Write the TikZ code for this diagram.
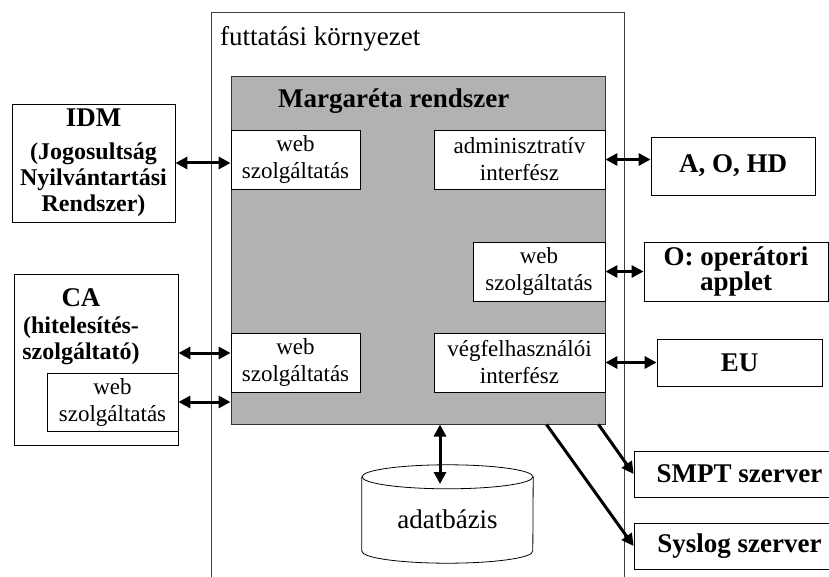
\documentclass[tikz,border=0pt]{standalone}
\usepackage{fontspec}
\setmainfont{Liberation Serif}
\usetikzlibrary{arrows.meta}

\newcommand\boxfont{\fontsize{23}{27}\selectfont}
\newcommand\envfont{\fontsize{27}{30}\selectfont}
\newcommand\headfont{\bfseries\fontsize{27}{24}\selectfont}
\newcommand\notefont{\bfseries\fontsize{24}{26}\selectfont}

\tikzset{
  frame/.style={draw=black!75, line width=0.8pt},
  sysarea/.style={draw=black!80, fill=black!30, line width=1pt},
  ifbox/.style={draw, fill=white, line width=0.8pt, align=center, inner sep=0pt, font=\boxfont},
  extbox/.style={draw, fill=white, line width=0.8pt, align=center, inner sep=0pt, font=\headfont},
  link/.style={line width=3pt, {Triangle[length=12pt,width=12pt]}-{Triangle[length=12pt,width=12pt]}},
  oneway/.style={line width=3pt, -{Triangle[length=12pt,width=12pt]}},
}

\begin{document}
\begin{tikzpicture}[x=1pt,y=-1pt]
\useasboundingbox (0,0) rectangle (829,577);

% futtatasi kornyezet
\node[frame, minimum width=413pt, minimum height=600pt] (env) at (417.5,312) {};
\node[anchor=base west, inner sep=0pt, font=\envfont] (envlabel) at (220,46) {futtatási környezet};

% Margareta rendszer
\node[sysarea, minimum width=374pt, minimum height=347pt] (sys) at (418,250.5) {};
\node[anchor=base west, inner sep=0pt, font=\headfont] (systitle) at (278,108) {Margaréta rendszer};

\node[ifbox, minimum width=129pt, minimum height=59pt] (wsidm) at (295.5,159.5) {web\\szolgáltatás};
\node[ifbox, minimum width=171pt, minimum height=59pt] (admin) at (519.5,159.5) {adminisztratív\\interfész};
\node[ifbox, minimum width=132pt, minimum height=59pt] (wsop) at (539,271.5) {web\\szolgáltatás};
\node[ifbox, minimum width=129pt, minimum height=59pt] (wsca) at (295.5,362.5) {web\\szolgáltatás};
\node[ifbox, minimum width=171pt, minimum height=59pt] (enduser) at (519.5,362.5) {végfelhasználói\\interfész};

% kulso rendszerek
\node[extbox, minimum width=163pt, minimum height=118pt, font=\notefont] (idm) at (93.5,163)
  {{\headfont IDM}\\[7pt](Jogosultság\\Nyilvántartási\\Rendszer)};
\node[extbox, minimum width=164pt, minimum height=171pt] (ca) at (96,359.5) {};
\node[anchor=north, inner sep=0pt, align=center, font=\notefont] (catext) at (81,288)
  {{\headfont CA}\\[1pt](hitelesítés-\\szolgáltató)};
\node[ifbox, minimum width=131pt, minimum height=58pt] (cagw) at (112.5,402) {web\\szolgáltatás};

\node[extbox, minimum width=164pt, minimum height=58pt] (aohd) at (733,166) {A, O, HD};
\node[extbox, minimum width=184pt, minimum height=59pt] (op) at (736,271.5) {O: operátori\\applet};
\node[extbox, minimum width=165pt, minimum height=47pt] (eu) at (739.5,362.5) {EU};
\node[extbox, minimum width=211pt, minimum height=46pt] (smpt) at (739.5,474) {SMPT szerver};
\node[extbox, minimum width=211pt, minimum height=46pt] (syslog) at (739.5,546) {Syslog szerver};

% adatbazis
\node[inner sep=0pt, minimum width=171pt, minimum height=74pt] (db) at (447.5,514) {};
\draw[line width=0.8pt, fill=white] (db.north west) -- (db.south west)
  arc[start angle=180, end angle=360, x radius=85.5pt, y radius=12pt] -- (db.north east);
\draw[line width=0.8pt] (db.north) ellipse [x radius=85.5pt, y radius=12pt];
\node[anchor=base, inner sep=0pt, font=\envfont] (dbtext) at (447.5,528) {adatbázis};
\coordinate (dbtop) at (440,484);

% kapcsolatok
\draw[link] (idm.east) -- (idm.east -| wsidm.west);
\draw[link] (admin.east) -- (admin.east -| aohd.west);
\draw[link] (wsop.east) -- (op.west);
\draw[link] ([yshift=9.5pt]wsca.west -| ca.east) -- ([yshift=9.5pt]wsca.west);
\draw[link] (cagw.east) -- (cagw.east -| sys.west);
\draw[link] (enduser.east) -- (eu.west);
\draw[link] (sys.south -| dbtop) -- (dbtop);
\draw[oneway] ([xshift=-7pt]sys.south east) -- (smpt.west);
\draw[oneway] ([xshift=-59pt]sys.south east) -- (syslog.west);

\end{tikzpicture}
\end{document}
